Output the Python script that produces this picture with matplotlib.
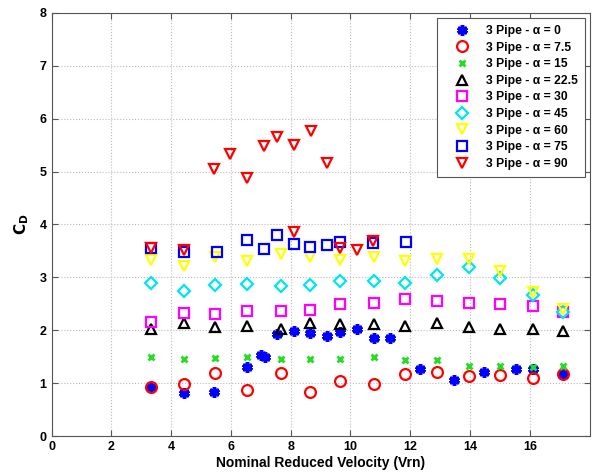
import matplotlib
matplotlib.use("Agg")
import matplotlib.pyplot as plt

plt.rcParams['font.family'] = ['Liberation Sans', 'DejaVu Sans']

x_a0 = [3.34, 4.43, 5.43, 6.53, 7.0, 7.13, 7.55, 8.12, 8.65, 9.2, 9.64, 10.21, 10.79, 11.33, 12.34, 13.47, 14.46, 15.54, 16.11, 17.11]
y_a0 = [0.92, 0.82, 0.83, 1.30, 1.53, 1.50, 1.93, 1.98, 1.94, 1.90, 1.96, 2.02, 1.85, 1.85, 1.26, 1.06, 1.22, 1.27, 1.27, 1.18]

x_main = [3.34, 4.44, 5.48, 6.53, 7.66, 8.65, 9.64, 10.78, 11.82, 12.9, 13.95, 15.0, 16.1, 17.11]
y_a7_5 = [0.92, 0.98, 1.20, 0.87, 1.20, 0.83, 1.05, 0.98, 1.17, 1.22, 1.13, 1.15, 1.10, 1.18]
y_a15 = [1.49, 1.45, 1.48, 1.49, 1.46, 1.45, 1.46, 1.49, 1.44, 1.43, 1.33, 1.33, 1.31, 1.33]
y_a22_5 = [2.02, 2.14, 2.07, 2.08, 2.03, 2.13, 2.12, 2.12, 2.09, 2.13, 2.07, 2.03, 2.02, 1.99]
y_a30 = [2.16, 2.32, 2.30, 2.37, 2.37, 2.38, 2.50, 2.51, 2.60, 2.55, 2.52, 2.50, 2.46, 2.35]
y_a45 = [2.90, 2.75, 2.85, 2.87, 2.84, 2.86, 2.94, 2.94, 2.89, 3.04, 3.20, 2.99, 2.67, 2.35]
y_a60 = [3.33, 3.21, 3.39, 3.30, 3.44, 3.39, 3.33, 3.39, 3.30, 3.34, 3.35, 3.12, 2.73, 2.41]

x_a75 = [3.32, 4.44, 5.54, 6.53, 7.11, 7.55, 8.1, 8.65, 9.2, 9.64, 10.77, 11.87]
y_a75 = [3.55, 3.47, 3.48, 3.70, 3.54, 3.80, 3.63, 3.57, 3.62, 3.67, 3.64, 3.67]

x_a90 = [3.32, 4.44, 5.43, 5.98, 6.53, 7.11, 7.55, 8.1, 8.67, 9.22, 8.1, 9.64, 10.21, 10.77]
y_a90 = [3.55, 3.52, 5.05, 5.34, 4.87, 5.49, 5.65, 5.50, 5.77, 5.17, 3.86, 3.56, 3.52, 3.69]

labels = ['3 Pipe - \u03b1 = 0', '3 Pipe - \u03b1 = 7.5', '3 Pipe - \u03b1 = 15',
          '3 Pipe - \u03b1 = 22.5', '3 Pipe - \u03b1 = 30', '3 Pipe - \u03b1 = 45',
          '3 Pipe - \u03b1 = 60', '3 Pipe - \u03b1 = 75', '3 Pipe - \u03b1 = 90']

fig = plt.figure(figsize=(5.92, 4.72), dpi=100)
ax = fig.add_axes([0.087, 0.076, 0.909, 0.897])

lw = 1.6
ax.plot(x_a0, y_a0, ls='none', marker=(6, 2, 0), ms=7.5, mew=2.6, color='#0000ff', label=labels[0])
ax.plot(x_main, y_a7_5, ls='none', marker='o', ms=7.8, mfc='none', mew=lw, color='#ff0000', label=labels[1])
ax.plot(x_main, y_a15, ls='none', marker='x', ms=5, mew=2, color='#22dd22', label=labels[2])
ax.plot(x_main, y_a22_5, ls='none', marker='^', ms=7.8, mfc='none', mew=lw, color='black', label=labels[3])
ax.plot(x_main, y_a30, ls='none', marker='s', ms=7.2, mfc='none', mew=lw, color='#ff00ff', label=labels[4])
ax.plot(x_main, y_a45, ls='none', marker='D', ms=6.2, mfc='none', mew=lw, color='#00e5ee', label=labels[5])
ax.plot(x_main, y_a60, ls='none', marker='v', ms=7.8, mfc='none', mew=lw, color='#ffff00', label=labels[6])
ax.plot(x_a75, y_a75, ls='none', marker='s', ms=7.2, mfc='none', mew=lw, color='#0000ff', label=labels[7])
ax.plot(x_a90, y_a90, ls='none', marker='v', ms=7.8, mfc='none', mew=lw, color='#ff0000', label=labels[8])

ax.set_xlim(0, 18)
ax.set_ylim(0, 8)
ax.set_xticks(range(0, 18, 2))
ax.set_yticks(range(0, 9))
ax.grid(True, ls=':', color='#bbbbbb', lw=0.8)
ax.tick_params(direction='in', top=True, right=True, labelsize=9, length=4, color='#555555')
for lab in ax.get_xticklabels() + ax.get_yticklabels():
    lab.set_fontweight('bold')
for sp in ax.spines.values():
    sp.set_color('#555555')
    sp.set_linewidth(0.8)

ax.set_xlabel('Nominal Reduced Velocity (Vrn)', fontsize=10, fontweight='bold', labelpad=2)
ax.set_ylabel(r'$\mathbf{C_D}$', fontsize=11, labelpad=6)

leg = ax.legend(loc='upper right', bbox_to_anchor=(0.9916, 0.988), borderaxespad=0,
                prop={'weight': 'bold', 'size': 8.7},
                fancybox=False, edgecolor='#555555', framealpha=1, borderpad=0.6,
                labelspacing=0.38, handletextpad=0.45, numpoints=1, handlelength=3.0)
leg.get_frame().set_linewidth(0.8)

fig.savefig('out.png', dpi=100)
